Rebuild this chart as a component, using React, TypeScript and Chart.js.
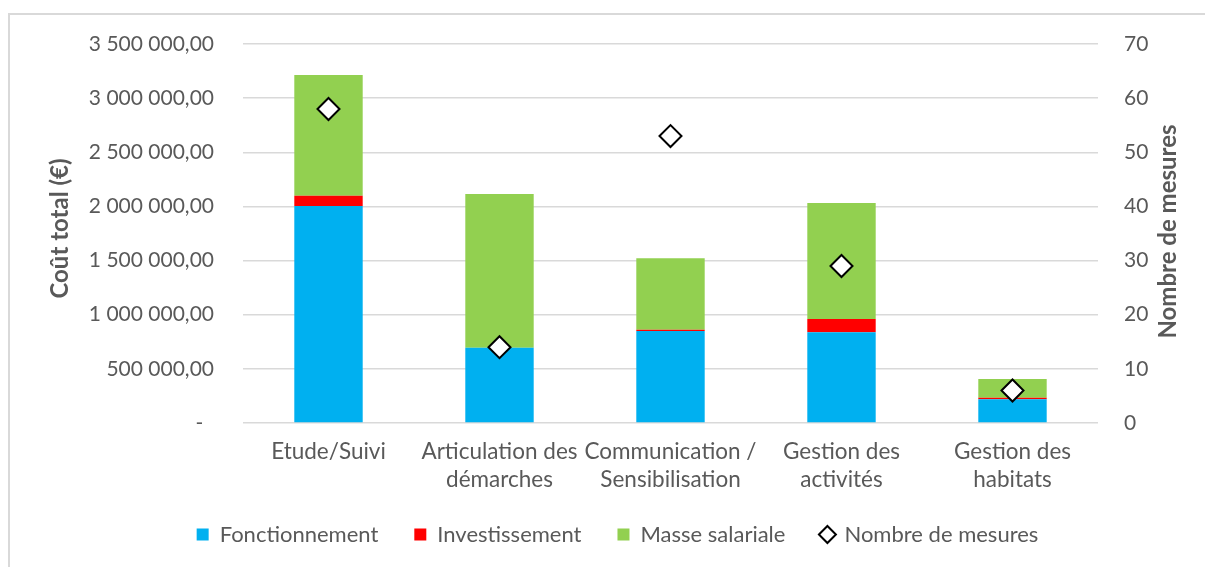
import React, { useEffect, useRef } from "react";
import { Chart, registerables } from "chart.js";

Chart.register(...registerables);

const categories: string[][] = [
  ["Etude/Suivi"],
  ["Articulation des", "démarches"],
  ["Communication /", "Sensibilisation"],
  ["Gestion des", "activités"],
  ["Gestion des", "habitats"],
];
const fonctionnement = [2005000, 695000, 850000, 837000, 219000];
const investissement = [94000, 0, 12000, 123000, 14000];
const masseSalariale = [1114000, 1420000, 659000, 1071000, 173000];
const nombreMesures = [58, 14, 53, 29, 6];

const leftMax = 3500000;
const leftStep = 500000;
const rightMax = 70;
const rightStep = 10;

const leftTitle = "Coût total (€)";
const rightTitle = "Nombre de mesures";

const TEXT = "#595959";
const FONT = "Lato";

function fmtMoney(v: number): string {
  if (v === 0) return "-  ";
  const s = Math.round(v)
    .toString()
    .replace(/\B(?=(\d{3})+(?!\d))/g, " ");
  return s + ",00";
}

const framePlugin = {
  id: "frame",
  beforeDraw(chart: any) {
    const ctx = chart.ctx;
    ctx.save();
    ctx.strokeStyle = "#d9d9d9";
    ctx.lineWidth = 2;
    ctx.beginPath();
    ctx.moveTo(9, chart.height + 5);
    ctx.lineTo(9, 14);
    ctx.lineTo(chart.width + 5, 14);
    ctx.stroke();
    ctx.restore();
  },
};

const axisTitlePlugin = {
  id: "axisTitles",
  afterDraw(chart: any) {
    const ctx = chart.ctx;
    const { top, bottom } = chart.chartArea;
    const cy = (top + bottom) / 2;
    const items: [number, number, string][] = [
      [60, cy - 5, leftTitle],
      [1168, cy - 2, rightTitle],
    ];
    ctx.save();
    ctx.font = `bold 24px ${FONT}`;
    ctx.fillStyle = TEXT;
    ctx.textAlign = "center";
    ctx.textBaseline = "middle";
    for (const [x, y, t] of items) {
      ctx.save();
      ctx.translate(x, y);
      ctx.rotate(-Math.PI / 2);
      ctx.fillText(t, 0, 0);
      ctx.restore();
    }
    ctx.restore();
  },
};

export default function App() {
  const ref = useRef<HTMLCanvasElement | null>(null);

  useEffect(() => {
    document.body.style.margin = "0";
    const canvas = ref.current;
    if (!canvas) return;
    const chart = new Chart(canvas, {
      type: "bar",
      data: {
        labels: categories,
        datasets: [
          {
            type: "bar",
            label: "Fonctionnement",
            data: fonctionnement,
            backgroundColor: "#00B0F0",
            yAxisID: "y",
            order: 2,
            stack: "s",
          },
          {
            type: "bar",
            label: "Investissement",
            data: investissement,
            backgroundColor: "#FF0000",
            yAxisID: "y",
            order: 2,
            stack: "s",
          },
          {
            type: "bar",
            label: "Masse salariale",
            data: masseSalariale,
            backgroundColor: "#92D050",
            yAxisID: "y",
            order: 2,
            stack: "s",
          },
          {
            type: "line",
            label: "Nombre de mesures",
            data: nombreMesures,
            yAxisID: "y1",
            showLine: false,
            pointStyle: "rectRot",
            pointRadius: 11,
            pointHoverRadius: 11,
            pointBackgroundColor: "#ffffff",
            pointBorderColor: "#000000",
            pointBorderWidth: 2,
            backgroundColor: "#ffffff",
            borderColor: "#000000",
            borderWidth: 2,
            order: 1,
          } as any,
        ],
      },
      options: {
        animation: false,
        responsive: false,
        maintainAspectRatio: false,
        devicePixelRatio: 1,
        layout: { padding: { left: 30, right: 0, top: 44, bottom: 11.5 } },
        datasets: {
          bar: { categoryPercentage: 1, barPercentage: 0.4 },
        },
        scales: {
          x: {
            stacked: true,
            grid: { display: false, drawTicks: false },
            border: { display: false },
            ticks: {
              color: TEXT,
              font: { family: FONT, size: 22.5, lineHeight: "28px" as any },
              padding: 15,
              maxRotation: 0,
              autoSkip: false,
            },
            afterFit(scale: any) {
              scale.height = 64.5;
            },
          },
          y: {
            type: "linear",
            position: "left",
            stacked: true,
            min: 0,
            max: leftMax,
            grid: { color: "#d9d9d9", lineWidth: 1.5, drawTicks: false },
            border: { display: false },
            ticks: {
              stepSize: leftStep,
              color: TEXT,
              font: { family: FONT, size: 21 },
              padding: 29,
              callback: (v: any) => fmtMoney(Number(v)),
            },
            afterFit(scale: any) {
              scale.width = 213;
            },
          },
          y1: {
            type: "linear",
            position: "right",
            min: 0,
            max: rightMax,
            grid: { display: false, drawTicks: false },
            border: { display: false },
            ticks: {
              stepSize: rightStep,
              color: TEXT,
              font: { family: FONT, size: 21 },
              padding: 26,
            },
            afterFit(scale: any) {
              scale.width = 107;
            },
          },
        },
        plugins: {
          tooltip: { enabled: false },
          legend: {
            position: "bottom",
            labels: {
              color: TEXT,
              font: { family: FONT, size: 22 },
              usePointStyle: true,
              boxWidth: 12,
              boxHeight: 12,
              padding: 36,
              generateLabels(ch: any) {
                return ch.data.datasets.map((ds: any, i: number) => {
                  const isLine = ds.type === "line";
                  return {
                    text: ds.label,
                    fillStyle: isLine ? "#ffffff" : ds.backgroundColor,
                    strokeStyle: isLine ? "#000000" : ds.backgroundColor,
                    lineWidth: isLine ? 2 : 0,
                    pointStyle: isLine ? "rectRot" : "rect",
                    hidden: false,
                    datasetIndex: i,
                    fontColor: TEXT,
                  };
                });
              },
            },
          },
        },
      },
      plugins: [framePlugin, axisTitlePlugin],
    });
    return () => chart.destroy();
  }, []);

  return (
    <div style={{ width: 1205, height: 567, position: "relative", background: "#fff" }}>
      <canvas ref={ref} width={1205} height={567} style={{ display: "block" }} />
    </div>
  );
}
